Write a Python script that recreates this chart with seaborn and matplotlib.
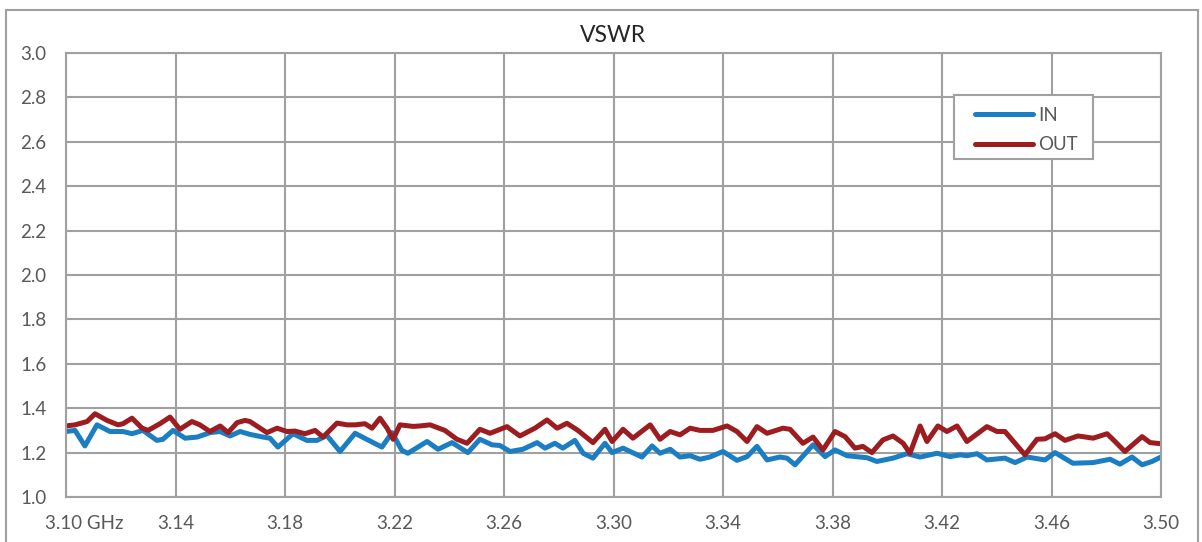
import matplotlib
matplotlib.use("Agg")
import matplotlib.pyplot as plt
from matplotlib.patches import Rectangle
from matplotlib.transforms import ScaledTranslation
import seaborn as sns
import pandas as pd

# VSWR vs frequency (GHz)
freq_in = [3.1000, 3.1033, 3.1069, 3.1113, 3.1161, 3.1208, 3.1241, 3.1281, 3.1332, 3.1354,
           3.1391, 3.1435, 3.1479, 3.1526, 3.1563, 3.1599, 3.1636, 3.1672, 3.1720, 3.1745,
           3.1774, 3.1829, 3.1880, 3.1917, 3.1953, 3.2001, 3.2056, 3.2103, 3.2154, 3.2191,
           3.2227, 3.2249, 3.2319, 3.2359, 3.2410, 3.2468, 3.2512, 3.2556, 3.2585, 3.2622,
           3.2669, 3.2721, 3.2750, 3.2786, 3.2815, 3.2859, 3.2889, 3.2925, 3.2969, 3.2995,
           3.3035, 3.3104, 3.3141, 3.3170, 3.3207, 3.3243, 3.3280, 3.3316, 3.3352, 3.3400,
           3.3451, 3.3488, 3.3524, 3.3561, 3.3608, 3.3634, 3.3663, 3.3729, 3.3773, 3.3809,
           3.3853, 3.3900, 3.3926, 3.3962, 3.4021, 3.4072, 3.4120, 3.4182, 3.4229, 3.4266,
           3.4291, 3.4328, 3.4364, 3.4430, 3.4467, 3.4511, 3.4576, 3.4613, 3.4678, 3.4752,
           3.4814, 3.4850, 3.4894, 3.4931, 3.4967, 3.5000]
vswr_in = [1.295, 1.300, 1.230, 1.325, 1.295, 1.295, 1.285, 1.300, 1.255, 1.260,
           1.300, 1.265, 1.270, 1.290, 1.295, 1.275, 1.295, 1.282, 1.270, 1.265,
           1.225, 1.285, 1.255, 1.255, 1.277, 1.205, 1.287, 1.257, 1.225, 1.290,
           1.210, 1.197, 1.250, 1.215, 1.245, 1.200, 1.260, 1.235, 1.232, 1.205,
           1.215, 1.245, 1.220, 1.242, 1.220, 1.255, 1.197, 1.175, 1.242, 1.200,
           1.220, 1.180, 1.230, 1.197, 1.215, 1.180, 1.186, 1.170, 1.180, 1.205,
           1.165, 1.182, 1.228, 1.167, 1.180, 1.175, 1.145, 1.235, 1.182, 1.212,
           1.186, 1.180, 1.177, 1.160, 1.175, 1.195, 1.180, 1.197, 1.182, 1.190,
           1.186, 1.195, 1.167, 1.175, 1.155, 1.180, 1.167, 1.200, 1.152, 1.155,
           1.170, 1.148, 1.180, 1.145, 1.160, 1.180]

freq_out = [3.1000, 3.1033, 3.1077, 3.1106, 3.1150, 3.1190, 3.1208, 3.1241, 3.1278, 3.1300,
            3.1343, 3.1380, 3.1416, 3.1460, 3.1489, 3.1526, 3.1563, 3.1592, 3.1625, 3.1654,
            3.1672, 3.1734, 3.1771, 3.1807, 3.1836, 3.1873, 3.1910, 3.1939, 3.1990, 3.2026,
            3.2056, 3.2092, 3.2118, 3.2147, 3.2173, 3.2195, 3.2220, 3.2268, 3.2293, 3.2330,
            3.2384, 3.2428, 3.2465, 3.2512, 3.2549, 3.2611, 3.2658, 3.2713, 3.2757, 3.2794,
            3.2830, 3.2870, 3.2925, 3.2969, 3.2995, 3.3035, 3.3071, 3.3134, 3.3170, 3.3207,
            3.3243, 3.3280, 3.3316, 3.3363, 3.3415, 3.3451, 3.3488, 3.3524, 3.3561, 3.3619,
            3.3645, 3.3692, 3.3729, 3.3765, 3.3809, 3.3846, 3.3882, 3.3911, 3.3944, 3.3984,
            3.4021, 3.4058, 3.4083, 3.4120, 3.4145, 3.4185, 3.4218, 3.4255, 3.4291, 3.4364,
            3.4401, 3.4430, 3.4503, 3.4547, 3.4576, 3.4613, 3.4649, 3.4697, 3.4752, 3.4803,
            3.4832, 3.4868, 3.4931, 3.4960, 3.5000]
vswr_out = [1.320, 1.325, 1.340, 1.375, 1.345, 1.325, 1.330, 1.355, 1.310, 1.300,
            1.330, 1.360, 1.305, 1.340, 1.325, 1.295, 1.320, 1.290, 1.335, 1.345,
            1.340, 1.290, 1.310, 1.295, 1.297, 1.285, 1.300, 1.270, 1.333, 1.325,
            1.325, 1.330, 1.310, 1.355, 1.310, 1.260, 1.325, 1.318, 1.320, 1.325,
            1.300, 1.260, 1.242, 1.305, 1.287, 1.317, 1.275, 1.310, 1.347, 1.310,
            1.332, 1.300, 1.245, 1.305, 1.250, 1.305, 1.265, 1.325, 1.260, 1.295,
            1.280, 1.310, 1.300, 1.300, 1.320, 1.295, 1.250, 1.317, 1.287, 1.310,
            1.305, 1.242, 1.270, 1.212, 1.295, 1.272, 1.220, 1.228, 1.200, 1.257,
            1.275, 1.242, 1.197, 1.320, 1.250, 1.320, 1.295, 1.320, 1.250, 1.317,
            1.295, 1.295, 1.190, 1.260, 1.262, 1.285, 1.255, 1.275, 1.265, 1.285,
            1.250, 1.205, 1.272, 1.245, 1.240]

x_ticks = [3.10, 3.14, 3.18, 3.22, 3.26, 3.30, 3.34, 3.38, 3.42, 3.46, 3.50]
x_labels = ["3.10 GHz", "3.14", "3.18", "3.22", "3.26", "3.30", "3.34", "3.38", "3.42", "3.46", "3.50"]
y_ticks = [1.0, 1.2, 1.4, 1.6, 1.8, 2.0, 2.2, 2.4, 2.6, 2.8, 3.0]

df_in = pd.DataFrame({"freq": freq_in, "vswr": vswr_in})
df_out = pd.DataFrame({"freq": freq_out, "vswr": vswr_out})

sns.set_style("white")
plt.rcParams["font.family"] = ["Lato", "DejaVu Sans"]

grid_col = "#A0A0A0"
text_col = "#595959"
fs = 13.5

fig = plt.figure(figsize=(12.02, 5.42), dpi=100)
ax = fig.add_axes([66 / 1202, 1 - 497 / 542, 1095 / 1202, 444 / 542])

line_kw = dict(linewidth=3.6, sort=False, solid_capstyle="round", solid_joinstyle="round")
sns.lineplot(data=df_in, x="freq", y="vswr", ax=ax, color="#1B7DC2", label="IN", **line_kw)
sns.lineplot(data=df_out, x="freq", y="vswr", ax=ax, color="#9C1C1F", label="OUT", **line_kw)

ax.set_xlim(3.10, 3.50)
ax.set_ylim(1.0, 3.0)
ax.set_xticks(x_ticks)
ax.set_xticklabels(x_labels)
ax.set_yticks(y_ticks)
ax.set_yticklabels([f"{v:.1f}" for v in y_ticks])
ax.set_xlabel("")
ax.set_ylabel("")
ax.grid(True, color=grid_col, linewidth=1.5)
ax.set_axisbelow(True)
for sp in ax.spines.values():
    sp.set_color(grid_col)
    sp.set_linewidth(1.5)
ax.tick_params(axis="both", length=0, labelsize=fs, labelcolor=text_col)
ax.tick_params(axis="x", pad=13)
ax.tick_params(axis="y", pad=14)

# first x label sits a bit right of its gridline
first = ax.get_xticklabels()[0]
first.set_transform(first.get_transform() + ScaledTranslation(0.18, 0, fig.dpi_scale_trans))

ax.set_title("VSWR", fontsize=16.5, color="#262626", pad=8)

# legend box drawn separately so it can be wider than the entries
ax.add_patch(Rectangle(((954 - 66) / 1095, 1 - (159 - 53) / 444), 139 / 1095, 64 / 444,
                       transform=ax.transAxes, facecolor="white", edgecolor=grid_col,
                       linewidth=1.5, zorder=4))
leg = ax.legend(loc="upper left", bbox_to_anchor=((975 - 66) / 1095, 1 - (107 - 53) / 444),
                borderaxespad=0, borderpad=0, frameon=False, handlelength=3.1,
                handletextpad=0.25, labelspacing=0.65, fontsize=fs)
leg.set_zorder(5)
for t in leg.get_texts():
    t.set_color(text_col)

# outer chart frame
fig.patches.append(Rectangle((6 / 1202, -0.05), 1192 / 1202, 1.05 - 10 / 542,
                             transform=fig.transFigure, fill=False,
                             edgecolor=grid_col, linewidth=1.5, zorder=0))

fig.savefig("out.png", dpi=100)
